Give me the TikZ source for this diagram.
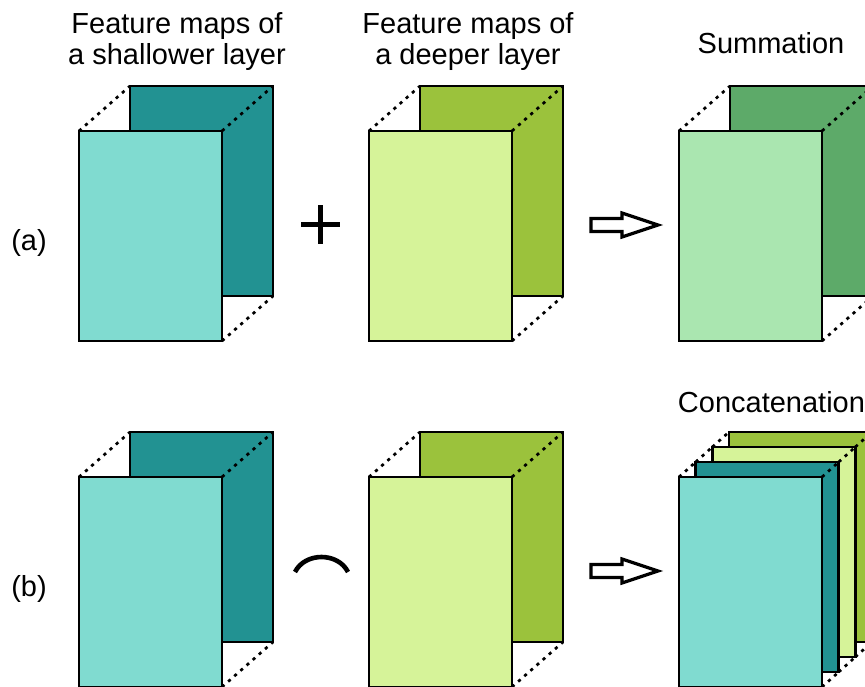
\documentclass[tikz,border=0pt]{standalone}
\usepackage{fontspec}
\setmainfont{Liberation Sans}
\definecolor{tealL}{RGB}{128,219,208}
\definecolor{tealD}{RGB}{34,146,146}
\definecolor{limeL}{RGB}{214,243,153}
\definecolor{limeD}{RGB}{155,194,60}
\definecolor{mintL}{RGB}{170,230,176}
\definecolor{mintD}{RGB}{93,170,105}
\begin{document}
\begin{tikzpicture}[x=1pt,y=-1pt,
  fmap/.style={draw=black, line width=2.8pt, minimum width=143pt, minimum height=210pt,
               inner sep=0pt, outer sep=0pt, anchor=north west},
  link/.style={line width=2.7pt, dash pattern=on 3.2pt off 5pt},
  lbl/.style={font=\fontsize{29}{31}\selectfont, inner sep=0pt, anchor=base},
  sym/.style={line width=4.2pt},
  hollow/.style={draw=black, fill=white, line width=3.2pt, line join=miter}]
\useasboundingbox (0,0) rectangle (865,686);

% ---------- row (a): summation ----------
\node[lbl] (ra) at (29,250) {(a)};
\node[lbl] (h1a) at (177,33) {Feature maps of};
\node[lbl] (h1b) at (177,64) {a shallower layer};
\node[lbl] (h2a) at (468,33) {Feature maps of};
\node[lbl] (h2b) at (468,64) {a deeper layer};
\node[lbl] (h3)  at (771,53) {Summation};

% shallower layer
\node[fmap, fill=tealD] (a1b) at (130,86) {};
\node[fmap, fill=tealL] (a1f) at (79,131) {};
\draw[link] (a1f.north west) -- (a1b.north west)
            (a1f.north east) -- (a1b.north east)
            (a1f.south east) -- (a1b.south east);

% plus sign
\draw[sym] (301,224.5) -- (340,224.5) (320.5,205) -- (320.5,244);

% deeper layer
\node[fmap, fill=limeD] (a2b) at (420,86) {};
\node[fmap, fill=limeL] (a2f) at (369,131) {};
\draw[link] (a2f.north west) -- (a2b.north west)
            (a2f.north east) -- (a2b.north east)
            (a2f.south east) -- (a2b.south east);

% result arrow
\draw[hollow] (591,218.5) -- (622,218.5) -- (622,213) -- (658,225)
              -- (622,237) -- (622,231.5) -- (591,231.5) -- cycle;

% summed maps
\node[fmap, fill=mintD] (a3b) at (730,86) {};
\node[fmap, fill=mintL] (a3f) at (679,131) {};
\draw[link] (a3f.north west) -- (a3b.north west)
            (a3f.north east) -- (a3b.north east)
            (a3f.south east) -- (a3b.south east);

% ---------- row (b): concatenation ----------
\node[lbl] (rb) at (29,596) {(b)};
\node[lbl] (h4) at (771.5,412) {Concatenation};

\node[fmap, fill=tealD] (b1b) at (130,432) {};
\node[fmap, fill=tealL] (b1f) at (79,477) {};
\draw[link] (b1f.north west) -- (b1b.north west)
            (b1f.north east) -- (b1b.north east)
            (b1f.south east) -- (b1b.south east);

% concatenation symbol
\draw[line width=4.6pt] (295,572) .. controls (305,552) and (338,552) .. (348,572);

\node[fmap, fill=limeD] (b2b) at (420,432) {};
\node[fmap, fill=limeL] (b2f) at (369,477) {};
\draw[link] (b2f.north west) -- (b2b.north west)
            (b2f.north east) -- (b2b.north east)
            (b2f.south east) -- (b2b.south east);

\draw[hollow] (591,564.5) -- (622,564.5) -- (622,559) -- (658,571)
              -- (622,583) -- (622,577.5) -- (591,577.5) -- cycle;

% stacked maps
\node[fmap, fill=limeD] (c1) at (729,432) {};
\node[fmap, fill=limeL] (c2) at (712.3,447) {};
\node[fmap, fill=tealD] (c3) at (695.7,462) {};
\node[fmap, fill=tealL] (c4) at (679,477) {};
\foreach \f/\b in {c4/c3, c3/c2, c2/c1}{
  \draw[link] (\f.north west) -- (\b.north west)
              (\f.north east) -- (\b.north east)
              (\f.south east) -- (\b.south east);
}
\end{tikzpicture}
\end{document}
